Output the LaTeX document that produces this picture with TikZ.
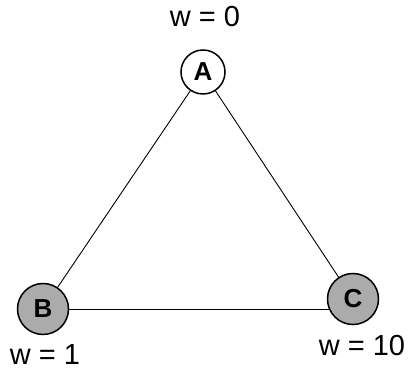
\documentclass[tikz,border=0pt]{standalone}
\usepackage{fontspec}
\setmainfont{Liberation Sans}
\usetikzlibrary{positioning,backgrounds}

\begin{document}
\begin{tikzpicture}[
      x=1pt,y=-1pt,
      every node/.style={font=\fontsize{29}{34}\selectfont},
      V/.style={draw,circle,line width=1.5pt,inner sep=0pt,minimum size=44pt,
        font=\fontsize{26}{30}\selectfont\bfseries},
      Vg/.style={V,fill=black!33,minimum size=51pt},
      wlbl/.style={inner sep=0pt},
      E/.style={line width=0.9pt},
    ]
    \useasboundingbox (0,0) rectangle (408,371);
    \node[V] (a) at (203,72) {A};
    \node[Vg] (b) at (43,309) {B};
    \node[Vg] (c) at (353,299) {C};

    % weights
    \node[wlbl, above=22pt of a, xshift=2pt] (wa) {w = 0};
    \node[wlbl, below=9pt of b, xshift=2pt] (wb) {w = 1};
    \node[wlbl, below=10pt of c, xshift=9pt] (wc) {w = 10};

    \begin{scope}[on background layer]
      \draw[E] (a) -- (b);
      \draw[E] (a) -- (c);
      \draw[E] (b) -- (b -| c);
    \end{scope}
  \end{tikzpicture}
\end{document}
